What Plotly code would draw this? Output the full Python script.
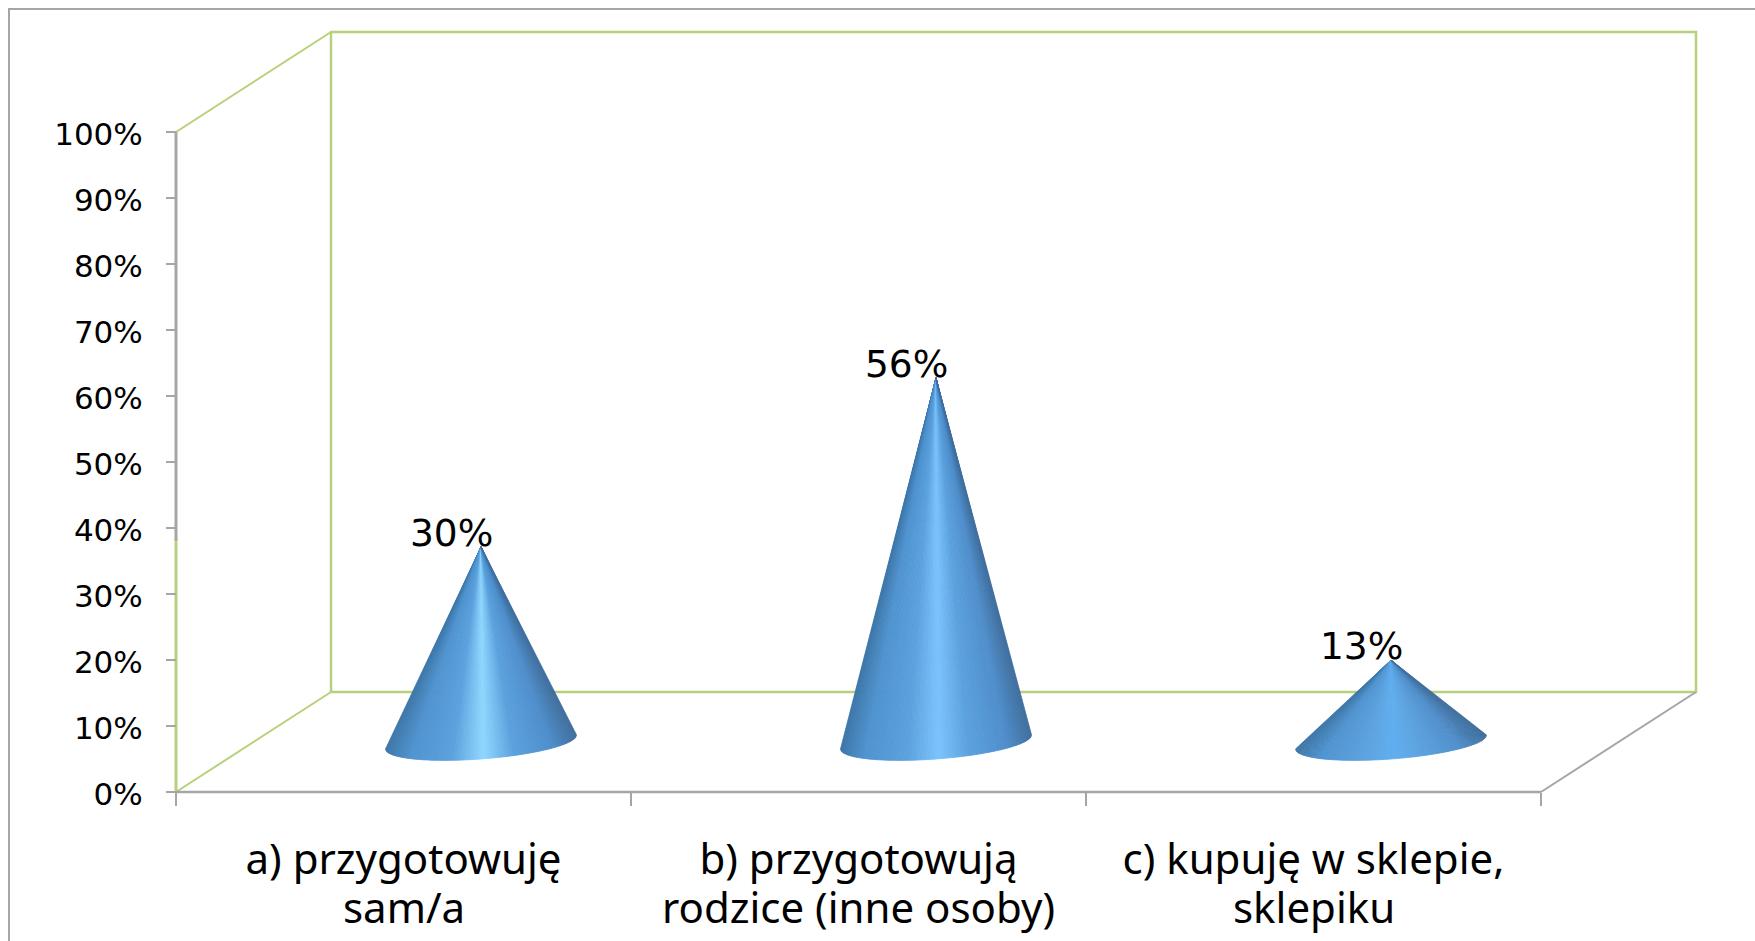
import numpy as np
import plotly.graph_objects as go

categories_line1 = ["a) przygotowuję", "b) przygotowują", "c) kupuję w sklepie,"]
categories_line2 = ["sam/a", "rodzice (inne osoby)", "sklepiku"]
values = [30, 56, 12.6]
y_ticks = list(range(0, 101, 10))

W, H = 1755, 941
X0, Y0 = 176, 792               # page pixels of the axis origin
PX_X = 455.0                    # pixels per category
PX_Y = 6.6                      # pixels per percent
DX = 155 / PX_X                 # depth offset of the 3D floor
DY = 100 / PX_Y
PAD = 6                         # spare pixels round the plot so lines are not clipped
GREEN = "#b7d17a"
GREY = "#a6a6a6"
STOPS = [-1, -0.75, -0.3, 0.03, 0.35, 0.75, 1]
SIDE = ["#3d76a8", "#4f93cf", "#5ca2de", None, "#5ca2de", "#4f8ecb", "#406f9e"]
HIGHLIGHT = ["#90d8ff", "#7cc4fc", "#60aef0"]
HEIGHT_SCALE = 0.985


def rgb(h):
    return np.array([int(h[i:i + 2], 16) for i in (1, 3, 5)], float)


def shade(u, peak):
    cols = [rgb(peak if c is None else c) for c in SIDE]
    c = [np.interp(u, STOPS, [k[j] for k in cols]) for j in range(3)]
    return "rgb(%d,%d,%d)" % tuple(c)


fig = go.Figure()


def line(xs, ys, color, width):
    fig.add_trace(go.Scatter(x=xs, y=ys, mode="lines", showlegend=False,
                             hoverinfo="skip", line=dict(color=color, width=width)))


top = 100 + DY
n = len(categories_line1)
# back wall and floor
line([DX, DX, n + DX, n + DX, DX], [DY, top, top, DY, DY], GREEN, 2.5)
line([0, DX], [100, top], GREEN, 2)
line([0, DX], [0, DY], GREEN, 2)
line([n, n + DX], [0, DY], GREY, 2)
# front axis lines
line([0, 0], [38, 100], GREY, 3)
line([0, 0], [0, 38], GREEN, 3)
line([0, n], [0, 0], GREY, 2.5)

# cones
A_X, A_Y = 95.5 / PX_X, 7 / PX_Y
B_Y = 17 / PX_Y
slices = 90
s = np.linspace(0, 1, slices + 1)
t = np.pi - 0.5 * (np.pi * s + np.arccos(1 - 2 * s))
for i, v in enumerate(values):
    cx = i + 0.5 + DX / 2
    cy = DY / 2
    tip = (cx, cy + v * HEIGHT_SCALE)
    ex = cx + A_X * np.cos(t)
    ey = cy + A_Y * np.cos(t) - B_Y * np.sin(t)
    for k in range(slices):
        u = (np.cos(t[k]) + np.cos(t[k + 1])) / 2
        col = shade(u, HIGHLIGHT[i])
        fig.add_trace(go.Scatter(
            x=[tip[0], ex[k], ex[k + 1], tip[0]],
            y=[tip[1], ey[k], ey[k + 1], tip[1]],
            mode="lines", fill="toself", fillcolor=col,
            line=dict(color=col, width=0.8), showlegend=False, hoverinfo="skip"))
    fig.add_annotation(x=tip[0], y=tip[1], text=f"{round(v)}%", showarrow=False,
                       xshift=-30, yshift=14, xanchor="center", yanchor="middle",
                       font=dict(family="DejaVu Sans", size=37.5, color="#000000"))

x_lo, x_hi = -PAD / PX_X, n + DX + PAD / PX_X
y_lo, y_hi = -PAD / PX_Y, top + PAD / PX_Y
L = X0 - PAD
R = X0 + (n + DX) * PX_X + PAD
B = Y0 + PAD
T = Y0 - top * PX_Y - PAD
pw = R - L
ph = B - T
FRAME = 9

for i, label in enumerate(categories_line2):
    fig.add_annotation(x=i + 0.5, xref="x", y=PAD / ph, yref="paper", yshift=-114,
                       text=label, showarrow=False, xanchor="center", yanchor="middle",
                       font=dict(family="Noto Sans", size=42, color="#000000"))

fig.update_layout(
    width=W, height=H, autosize=False,
    margin=dict(l=L, r=W - R, t=T, b=H - B, pad=0),
    paper_bgcolor="white", plot_bgcolor="white",
    showlegend=False,
    xaxis=dict(range=[x_lo, x_hi], tickmode="array", tickvals=[i + 0.5 for i in range(n)],
               ticktext=categories_line1, ticks="", showgrid=False, zeroline=False, showline=False,
               anchor="free", position=PAD / ph,
               tickfont=dict(family="Noto Sans", size=42, color="#000000"),
               ticklabelstandoff=39, automargin=False, tickangle=0,
               minor=dict(tickmode="array", tickvals=list(range(n + 1)), ticks="outside",
                          ticklen=13, tickwidth=1.5, tickcolor=GREY, showgrid=False)),
    yaxis=dict(range=[y_lo, y_hi], tickmode="array", tickvals=y_ticks,
               ticktext=[f"{v}%" for v in y_ticks], ticks="outside", ticklen=10, tickwidth=1.5,
               tickcolor=GREY, showgrid=False, zeroline=False, showline=False,
               anchor="free", position=PAD / pw,
               tickfont=dict(family="DejaVu Sans", size=31, color="#000000"),
               ticklabelstandoff=17, ticklabelshift=2, automargin=False),
    shapes=[dict(type="path", xref="paper", yref="paper",
                 path=f"M {(FRAME - L) / pw} {(B - H) / ph} L {(FRAME - L) / pw} {(B - FRAME) / ph} L {(W - L) / pw} {(B - FRAME) / ph}",
                 line=dict(color=GREY, width=2))],
)

fig.write_html("out.html", config=dict(displayModeBar=False),
               post_script="document.body.style.margin='0';document.body.style.overflow='hidden';")
